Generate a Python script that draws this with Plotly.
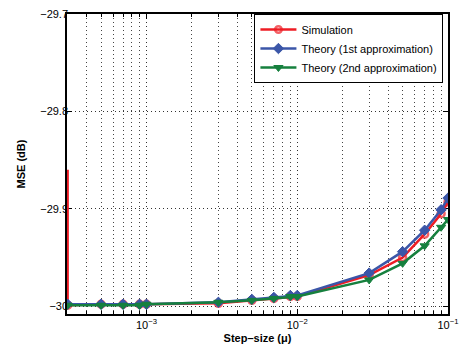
import plotly.graph_objects as go

mu = [3e-4, 5e-4, 7e-4, 9e-4, 1e-3, 3e-3, 5e-3, 7e-3, 9e-3, 1e-2, 3e-2, 5e-2, 7e-2, 9e-2, 1e-1]
sim_x = [3e-4] + mu
sim = [-29.86, -29.999, -29.998, -29.998, -29.998, -29.998, -29.997, -29.994, -29.992, -29.990, -29.990,
       -29.968, -29.950, -29.926, -29.905, -29.893]
theory1 = [-29.998, -29.998, -29.998, -29.998, -29.998, -29.996, -29.993, -29.991, -29.989, -29.989,
           -29.966, -29.944, -29.922, -29.901, -29.889]
theory2 = [-29.999, -29.999, -29.999, -29.999, -29.998, -29.996, -29.994, -29.992, -29.990, -29.990,
           -29.973, -29.956, -29.938, -29.919, -29.911]

x_ticks = [1e-3, 1e-2, 1e-1]
x_ticktext = ["10<sup>\u22123</sup>", "10<sup>\u22122</sup>", "10<sup>\u22121</sup>"]
minor_mult = [2, 3, 4, 5, 6, 7, 8, 9]
minor_decades = [1e-4, 1e-3, 1e-2]
x_minor = [m * d for d in minor_decades for m in minor_mult if m * d >= 3e-4]
y_ticks = [-30.0, -29.9, -29.8, -29.7]
y_ticktext = ["\u221230", "\u221229.9", "\u221229.8", "\u221229.7"]

red = "#ee1c24"
blue = "#3b56a8"
green = "#16803e"
FONT = "Liberation Sans, Arial"
GRID_DASH = "1px,3px"

fig = go.Figure()
fig.add_trace(go.Scatter(
    x=sim_x, y=sim, mode="lines+markers", name="Simulation",
    line=dict(color=red, width=2.5),
    marker=dict(symbol="circle-open", size=[0] + [7] * len(mu), color=red, line=dict(width=2.5, color=red)),
))
fig.add_trace(go.Scatter(
    x=mu, y=theory1, mode="lines+markers", name="Theory (1st approximation)",
    line=dict(color=blue, width=2.5),
    marker=dict(symbol="diamond", size=8, color=blue, line=dict(width=1, color=blue)),
))
fig.add_trace(go.Scatter(
    x=mu, y=theory2, mode="lines+markers", name="Theory (2nd approximation)",
    line=dict(color=green, width=2.5),
    marker=dict(symbol="triangle-down", size=8, color=green, line=dict(width=1, color=green)),
))

axis_common = dict(
    showline=True, linecolor="black", linewidth=1.5, mirror="allticks",
    ticks="inside", tickcolor="black", ticklen=5, tickwidth=1,
    gridcolor="#333333", griddash=GRID_DASH, gridwidth=1, zeroline=False,
    tickfont=dict(family=FONT, size=11, color="black"),
    automargin=False, layer="below traces",
)

fig.update_xaxes(
    type="log", range=[-3.527, -1.0],
    tickvals=x_ticks, ticktext=x_ticktext,
    title=dict(text="<b>Step\u2013size (\u03bc)</b>", font=dict(family=FONT, size=11, color="black"), standoff=4),
    minor=dict(tickvals=x_minor, ticks="inside", ticklen=3, tickcolor="black",
               showgrid=True, gridcolor="#444444", griddash=GRID_DASH, gridwidth=1),
    **axis_common,
)
fig.update_yaxes(
    range=[-30.008, -29.7],
    tickvals=y_ticks, ticktext=y_ticktext,
    ticklabelstandoff=-5,
    title=dict(text="<b>MSE (dB)</b>", font=dict(family=FONT, size=11, color="black"), standoff=12),
    **axis_common,
)

fig.update_layout(
    width=459, height=348,
    margin=dict(l=67, r=11, t=14, b=34),
    paper_bgcolor="white", plot_bgcolor="white",
    font=dict(family=FONT, size=11, color="black"),
    legend=dict(
        x=0.988, y=1.0, xanchor="right", yanchor="top",
        bgcolor="white", bordercolor="black", borderwidth=1,
        font=dict(size=11), tracegroupgap=0, itemwidth=36,
    ),
    showlegend=True,
)

fig.write_html("out.html")
